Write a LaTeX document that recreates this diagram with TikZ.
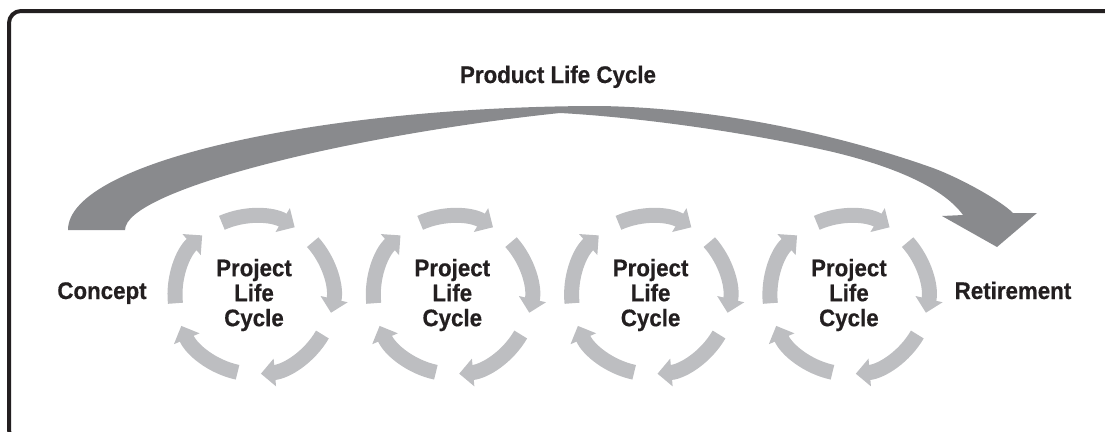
\documentclass[tikz,border=0pt]{standalone}
\usepackage{fontspec}
\setmainfont{Liberation Sans}
\newfontfamily\diagfont[FakeStretch=0.93,FakeBold=0.5]{Liberation Sans}
\usetikzlibrary{arrows.meta,positioning}
\definecolor{darkgrey}{RGB}{137,138,141}
\definecolor{lightgrey}{RGB}{189,190,193}
\definecolor{inkblack}{RGB}{35,31,32}

\begin{document}
\begin{tikzpicture}[x=1pt,y=1pt,node distance=198.3pt,
  label node/.style={font=\diagfont\fontsize{24}{25}\selectfont\bfseries,text=inkblack,inner sep=0pt},
  cycle node/.style={label node,align=center},
  cycle arrow/.style={lightgrey,line width=15pt,-{Triangle[width=27pt,length=14pt]}},
  frame line/.style={draw=inkblack,line width=4pt,rounded corners=12pt}]

  \useasboundingbox (0,0) rectangle (1105,-431);
  \clip (0,0) rectangle (1105,-431);
  \draw[frame line] (9,-442) rectangle (1120,-11);

  % big product arrow
  \fill[darkgrey] (68,-230) .. controls (68,-160) and (330,-106) .. (600,-106)
    .. controls (720,-108) and (840,-135) .. (933,-168)
    .. controls (960,-178) and (1000,-200) .. (1013,-213)
    -- (1037,-213) -- (997,-247) -- (942,-216) -- (963,-215)
    .. controls (945,-190) and (900,-168) .. (833,-152)
    .. controls (760,-135) and (650,-118) .. (560,-113)
    .. controls (350,-135) and (125,-190) .. (125,-230) -- cycle;

  \node[label node,anchor=base] (title) at (558,-83) {Product Life Cycle};
  \node[label node,anchor=base] (concept) at (102,-299) {Concept};
  \node[label node,anchor=base] (retire) at (1013,-299) {Retirement};

  \node[cycle node] (p1) at (254,-295) {Project\\Life\\Cycle};
  \node[cycle node] (p2) [right of=p1] {Project\\Life\\Cycle};
  \node[cycle node] (p3) [right of=p2] {Project\\Life\\Cycle};
  \node[cycle node] (p4) [right of=p3] {Project\\Life\\Cycle};

  \foreach \i in {1,...,4}
    \foreach \a in {114,42,-30,-102,-174}
      \draw[cycle arrow] ([shift={(\a:79)}]p\i.center) arc[start angle=\a,delta angle=-55,radius=79];
\end{tikzpicture}
\end{document}
